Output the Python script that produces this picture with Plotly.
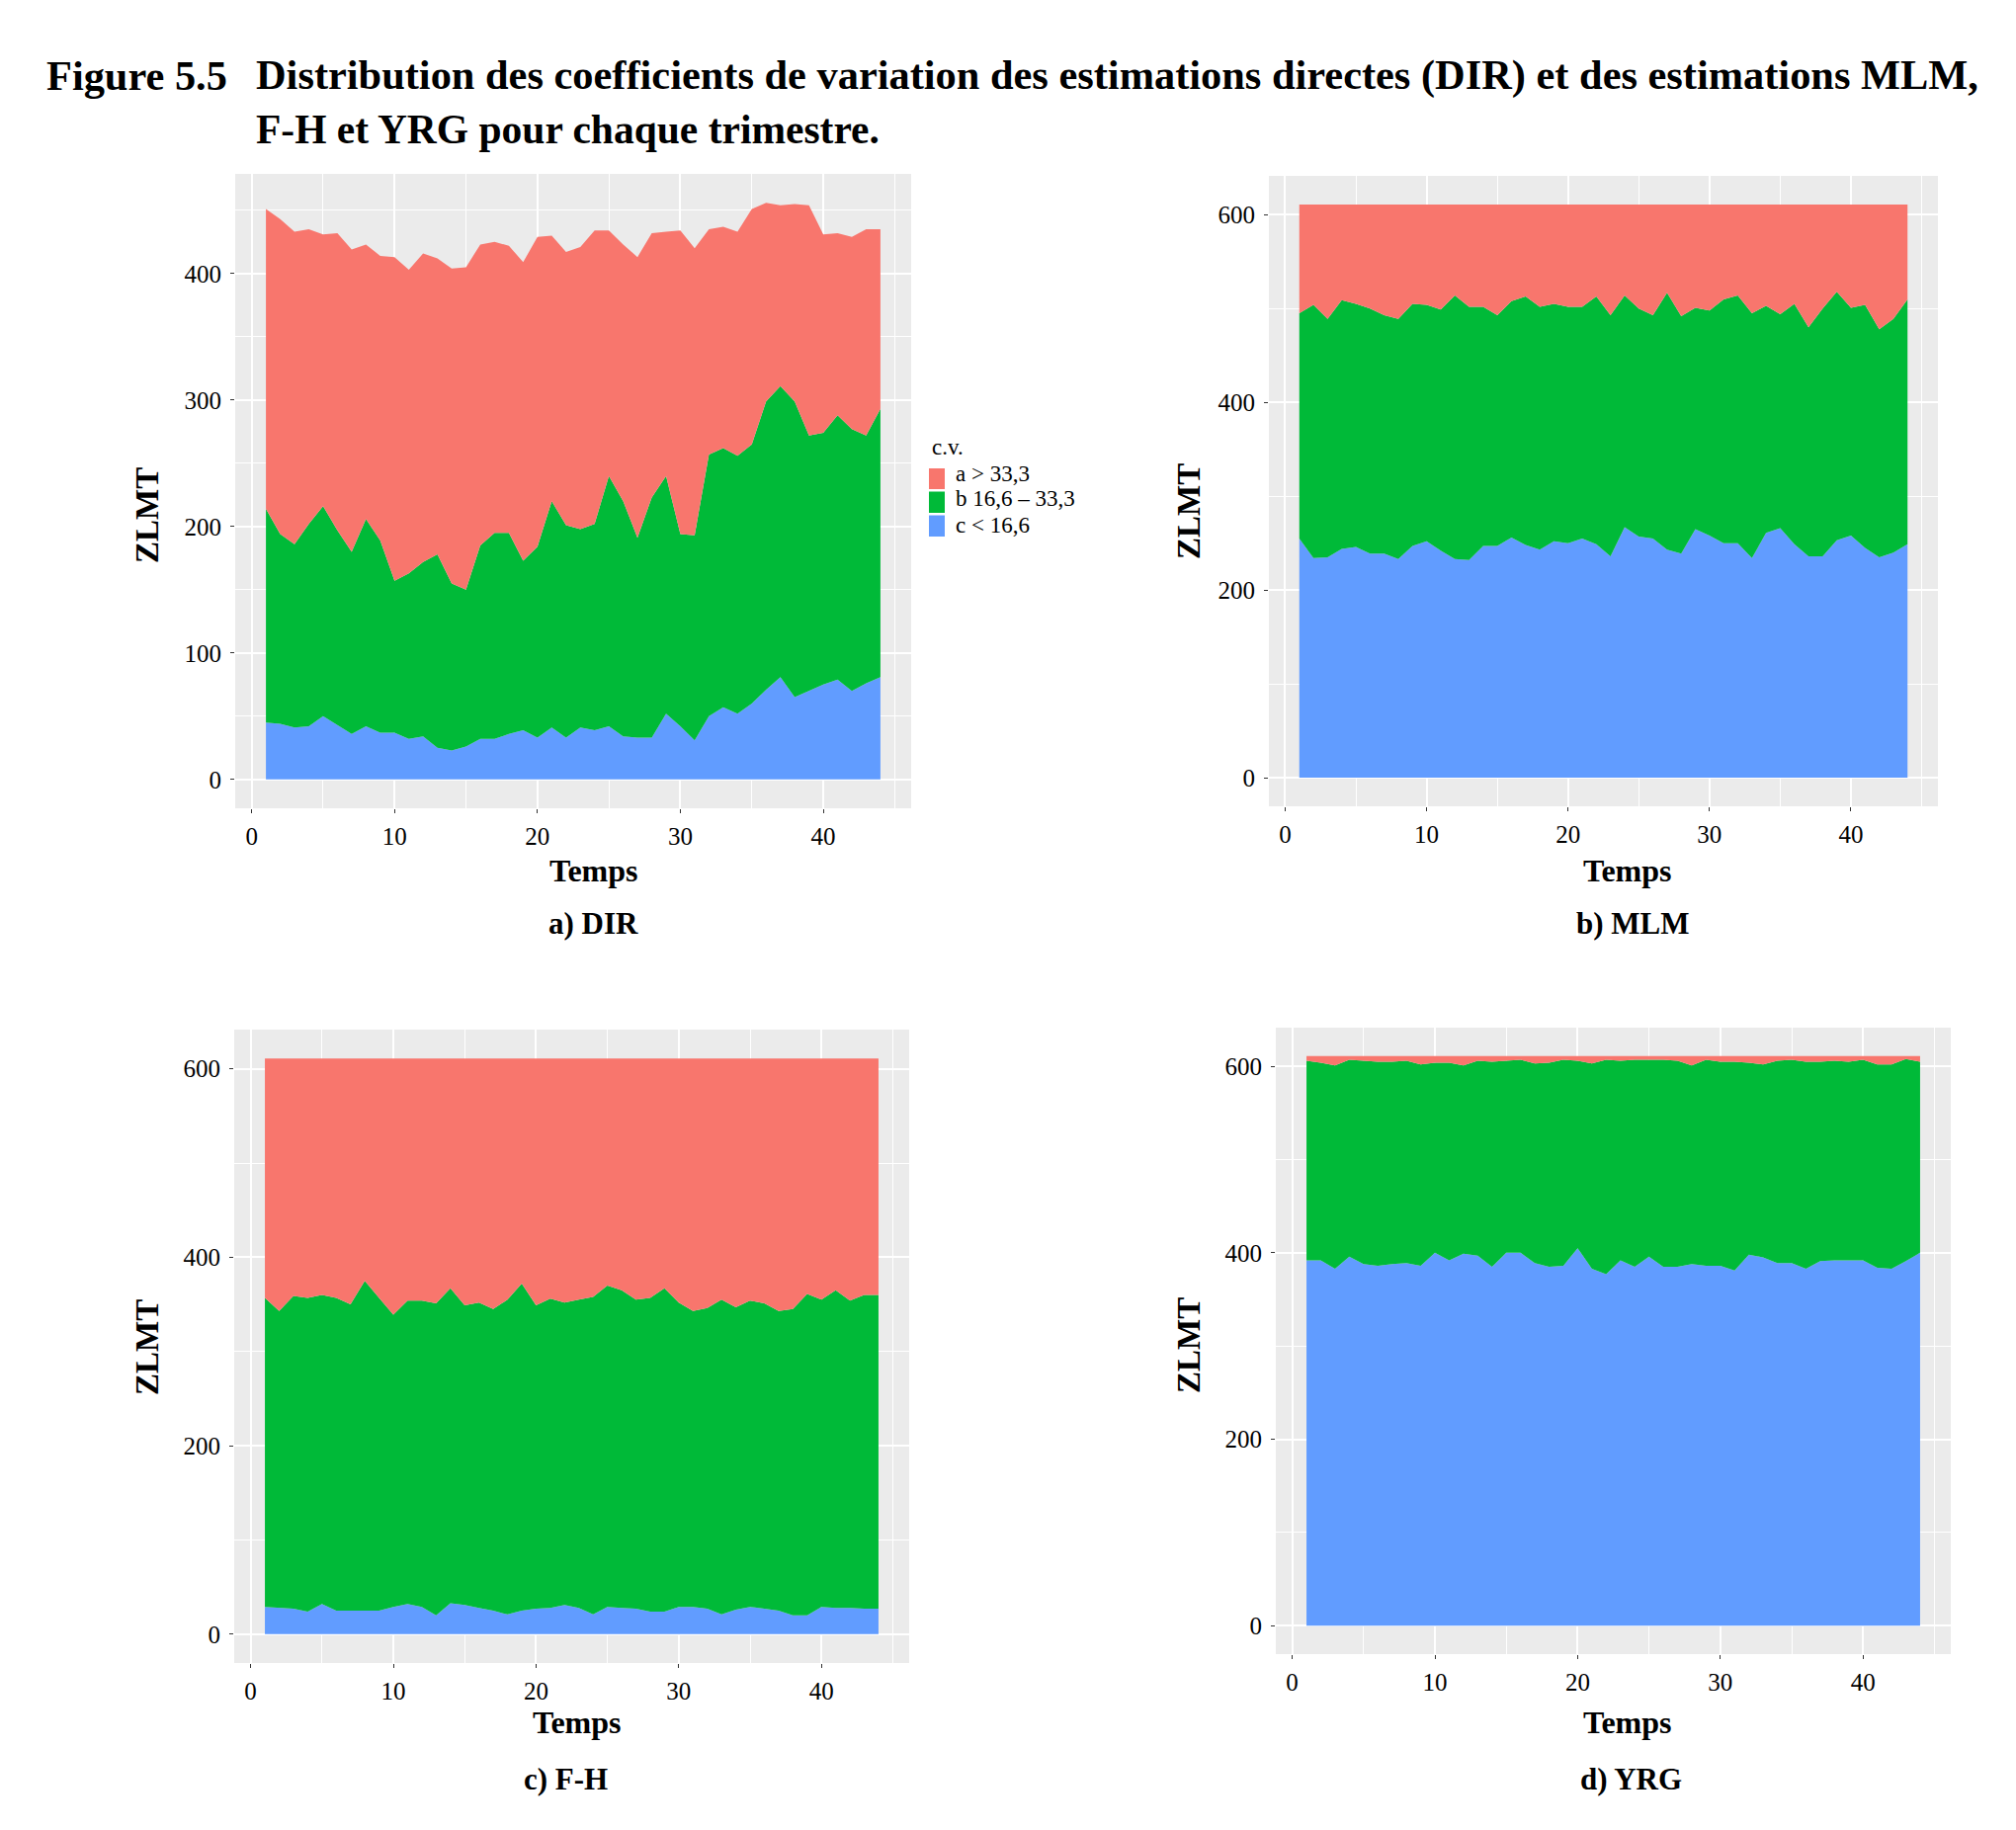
import plotly.graph_objects as go

W, H = 2040, 1852
FONT = "Liberation Serif"

temps = list(range(1, 45))
categories = ["a > 33,3", "b 16,6 – 33,3", "c < 16,6"]
colors = {"a": "#F8766D", "b": "#00BA38", "c": "#619CFF"}

# ---- a) DIR ----
dir_a = [237, 249, 247, 233, 215, 235, 239, 217, 225, 256, 240, 244, 234, 249, 255, 238, 230, 227, 236, 245, 210, 216,
         223, 232, 194, 203, 222, 209, 193, 240, 227, 178, 175, 177, 186, 157, 143, 156, 182, 157, 144, 152, 163, 142]
dir_b = [169, 150, 145, 160, 166, 154, 144, 164, 152, 120, 131, 138, 153, 132, 124, 153, 163, 159, 134, 151, 179, 168,
         157, 163, 198, 186, 158, 190, 188, 152, 162, 207, 205, 204, 205, 228, 230, 234, 202, 199, 209, 207, 196, 212]
dir_c = [45, 44, 41, 42, 50, 43, 36, 42, 37, 37, 32, 34, 25, 23, 26, 32, 32, 36, 39, 33, 41, 33,
         41, 39, 42, 34, 33, 33, 52, 42, 31, 50, 57, 52, 60, 71, 81, 65, 70, 75, 79, 70, 76, 81]

# ---- b) MLM ----
mlm_a = [116, 107, 122, 102, 106, 111, 118, 122, 106, 107, 112, 97, 109, 109, 118, 103, 98, 109, 106, 109, 109, 98,
         118, 97, 111, 118, 94, 119, 110, 113, 101, 97, 116, 108, 117, 106, 131, 111, 93, 110, 107, 133, 122, 101]
mlm_b = [240, 270, 254, 265, 259, 261, 254, 256, 258, 252, 257, 281, 270, 255, 246, 252, 265, 259, 253, 252, 247, 264,
         257, 247, 243, 238, 274, 253, 236, 240, 260, 264, 261, 242, 228, 256, 244, 264, 265, 243, 259, 243, 249, 261]
mlm_c = [255, 234, 235, 244, 246, 239, 239, 233, 247, 252, 242, 233, 232, 247, 247, 256, 248, 243, 252, 250, 255, 249,
         236, 267, 257, 255, 243, 239, 265, 258, 250, 250, 234, 261, 266, 249, 236, 236, 253, 258, 245, 235, 240, 249]

# ---- c) F-H ----
fh_a = [254, 268, 252, 254, 251, 254, 261, 236, 254, 272, 257, 257, 260, 244, 262, 259, 266, 256, 239, 262, 255, 259,
        256, 253, 241, 246, 256, 254, 244, 259, 268, 265, 256, 264, 257, 260, 268, 266, 250, 256, 246, 257, 251, 251]
fh_b = [328, 315, 332, 333, 328, 332, 325, 350, 332, 310, 322, 325, 331, 334, 318, 324, 320, 334, 347, 322, 328, 321,
        327, 337, 341, 337, 328, 333, 343, 323, 314, 319, 334, 321, 325, 324, 318, 325, 341, 326, 337, 326, 333, 333]
fh_c = [29, 28, 27, 24, 32, 25, 25, 25, 25, 29, 32, 29, 20, 33, 31, 28, 25, 21, 25, 27, 28, 31,
        28, 21, 29, 28, 27, 24, 24, 29, 29, 27, 21, 26, 29, 27, 25, 20, 20, 29, 28, 28, 27, 27]

# ---- d) YRG ----
yrg_a = [5, 7, 10, 4, 5, 6, 6, 5, 9, 7, 7, 10, 5, 6, 5, 4, 8, 7, 4, 5, 8, 4,
         5, 4, 4, 4, 5, 10, 4, 6, 6, 7, 9, 5, 4, 6, 6, 5, 6, 4, 9, 9, 3, 6]
yrg_b = [214, 212, 218, 211, 218, 219, 217, 217, 216, 204, 212, 202, 209, 220, 206, 207, 214, 219, 221, 201, 220, 230,
         214, 222, 211, 222, 221, 213, 221, 219, 224, 206, 207, 217, 218, 222, 214, 214, 213, 215, 218, 219, 217, 205]
yrg_c = [392, 392, 383, 396, 388, 386, 388, 389, 386, 400, 392, 399, 397, 385, 400, 400, 389, 385, 386, 405, 383, 377,
         392, 385, 396, 385, 385, 388, 386, 386, 381, 398, 395, 389, 389, 383, 391, 392, 392, 392, 384, 383, 391, 400]

x_ticks = [0, 10, 20, 30, 40]
x_minor = [5, 15, 25, 35, 45]

panels = [
    dict(name="a) DIR", a=dir_a, b=dir_b, c=dir_c, box=(238, 176, 922, 818),
         yticks=[0, 100, 200, 300, 400], yminor=[50, 150, 250, 350, 450],
         ztitle=(149, 522), ttitle=(601, 881), caption=(600, 935)),
    dict(name="b) MLM", a=mlm_a, b=mlm_b, c=mlm_c, box=(1284, 178, 1961, 816),
         yticks=[0, 200, 400, 600], yminor=[100, 300, 500],
         ztitle=(1203, 518), ttitle=(1647, 881), caption=(1652, 935)),
    dict(name="c) F-H", a=fh_a, b=fh_b, c=fh_c, box=(237, 1042, 920, 1683),
         yticks=[0, 200, 400, 600], yminor=[100, 300, 500],
         ztitle=(149, 1364), ttitle=(584, 1743), caption=(572, 1800)),
    dict(name="d) YRG", a=yrg_a, b=yrg_b, c=yrg_c, box=(1291, 1040, 1974, 1674),
         yticks=[0, 200, 400, 600], yminor=[100, 300, 500],
         ztitle=(1203, 1362), ttitle=(1647, 1743), caption=(1650, 1800)),
]


def px(x):
    return x / W


def py(y):
    return 1 - y / H


fig = go.Figure()
annotations = []
shapes = []

for i, p in enumerate(panels, start=1):
    xa = "x" if i == 1 else f"x{i}"
    ya = "y" if i == 1 else f"y{i}"
    for key, label in (("c", categories[2]), ("b", categories[1]), ("a", categories[0])):
        fig.add_trace(go.Scatter(
            x=temps, y=p[key], name=label, stackgroup=f"s{i}", mode="lines",
            line=dict(width=0, color=colors[key]), fillcolor=colors[key],
            showlegend=False, xaxis=xa, yaxis=ya, hoverinfo="x+y+name"))
    totals = [p["a"][k] + p["b"][k] + p["c"][k] for k in range(len(temps))]
    ymax = max(totals)
    x0, y0, x1, y1 = p["box"]
    common = dict(
        showgrid=True, gridcolor="white", gridwidth=1.8, zeroline=False, showline=False,
        ticks="outside", ticklen=4, tickwidth=1, tickcolor="#333333",
        tickfont=dict(family=FONT, size=25, color="black"),
    )
    xkey = "xaxis" if i == 1 else f"xaxis{i}"
    ykey = "yaxis" if i == 1 else f"yaxis{i}"
    fig.update_layout(**{
        xkey: dict(domain=[px(x0), px(x1)], range=[1 - 0.05 * 43, 44 + 0.05 * 43],
                   tickmode="array", tickvals=x_ticks, anchor=ya, ticklabelstandoff=2,
                   minor=dict(tickmode="array", tickvals=x_minor, showgrid=True,
                              gridcolor="white", gridwidth=0.9, ticks=""),
                   **common),
        ykey: dict(domain=[py(y1), py(y0)], range=[-0.05 * ymax, 1.05 * ymax],
                   tickmode="array", tickvals=p["yticks"], anchor=xa, ticklabelstandoff=4,
                   minor=dict(tickmode="array", tickvals=p["yminor"], showgrid=True,
                              gridcolor="white", gridwidth=0.9, ticks=""),
                   **common),
    })
    zx, zy = p["ztitle"]
    annotations.append(dict(text="ZLMT", x=px(zx), y=py(zy), xref="paper", yref="paper",
                            showarrow=False, textangle=-90, xanchor="center", yanchor="middle",
                            font=dict(family=FONT, size=33, color="black", weight="bold")))
    tx, ty = p["ttitle"]
    annotations.append(dict(text="Temps", x=px(tx), y=py(ty), xref="paper", yref="paper",
                            showarrow=False, xanchor="center", yanchor="middle",
                            font=dict(family=FONT, size=32, color="black", weight="bold")))
    cx, cy = p["caption"]
    annotations.append(dict(text=p["name"], x=px(cx), y=py(cy), xref="paper", yref="paper",
                            showarrow=False, xanchor="center", yanchor="middle",
                            font=dict(family=FONT, size=31, color="black", weight="bold")))

# Title
annotations.append(dict(text="Figure 5.5", x=px(45), y=py(76), xref="paper", yref="paper",
                        showarrow=False, xanchor="left", yanchor="middle",
                        font=dict(family=FONT, size=42.4, color="black", weight="bold")))
annotations.append(dict(text="Distribution des coefficients de variation des estimations directes (DIR) et des estimations MLM,",
                        x=px(257), y=py(76), xref="paper", yref="paper",
                        showarrow=False, xanchor="left", yanchor="middle",
                        font=dict(family=FONT, size=42.4, color="black", weight="bold")))
annotations.append(dict(text="F-H et YRG pour chaque trimestre.", x=px(257), y=py(131), xref="paper", yref="paper",
                        showarrow=False, xanchor="left", yanchor="middle",
                        font=dict(family=FONT, size=41.5, color="black", weight="bold")))

# Legend (ggplot style)
leg_font = dict(family=FONT, size=23, color="black")
annotations.append(dict(text="c.v.", x=px(941), y=py(452), xref="paper", yref="paper",
                        showarrow=False, xanchor="left", yanchor="middle", font=leg_font))
key_rows = [(474, 495, 480, "a"), (497.5, 519, 505, "b"), (521.5, 543, 531, "c")]
for (ky0, ky1, ty, key), label in zip(key_rows, categories):
    shapes.append(dict(type="rect", xref="paper", yref="paper", x0=px(940), x1=px(956),
                       y0=py(ky1), y1=py(ky0), fillcolor=colors[key], line=dict(width=0)))
    annotations.append(dict(text=label, x=px(965), y=py(ty), xref="paper", yref="paper",
                            showarrow=False, xanchor="left", yanchor="middle", font=leg_font))

fig.update_layout(
    width=W, height=H, margin=dict(l=0, r=0, t=0, b=0),
    paper_bgcolor="white", plot_bgcolor="#EBEBEB",
    annotations=annotations, shapes=shapes, showlegend=False,
    font=dict(family=FONT, color="black"),
)

fig.write_html("out.html")
